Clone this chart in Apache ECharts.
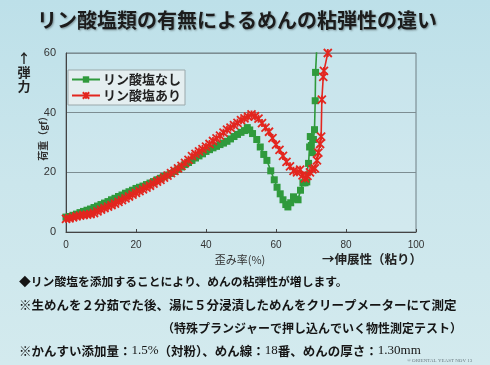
<!DOCTYPE html>
<html><head><meta charset="utf-8">
<script src="https://cdn.jsdelivr.net/npm/echarts@6/dist/echarts.min.js"></script>
<style>html,body{margin:0;padding:0;}#c{width:490px;height:365px;}</style>
</head><body><div id="c"></div>
<script>
const titleText = 'リン酸塩類の有無によるめんの粘弾性の違い';
const seriesNames = ['リン酸塩なし', 'リン酸塩あり'];
const xTicks = [0, 20, 40, 60, 80, 100];
const yTicks = [0, 20, 40, 60];

// リン酸塩なし  (strain %, load gf)
const noneX = [0,1,2,3,4,5,6,7,8,9,10,11,12,13,14,15,16,17,18,19,20,21,22,23,24,25,26,27,28,29,
  30,31,32,33,34,35,36,37,38,39,40,41,42,43,44,45,46,47,48,49,50,51,51.8,52.5,53.3,54.5,55.5,56.5,57.4,58.5,
  59.5,60.3,61.2,62,62.8,63.4,64.2,65,65.7,66.3,67,67.7,68.3,68.8,69.3,69.6,69.8,70.1,70.4,70.7,71.0,71.2,71.3,71.7];
const noneY = [5.0,5.2,5.6,6.0,6.5,6.9,7.3,7.7,8.2,8.7,9.2,9.7,10.2,10.8,11.3,11.9,12.4,13.0,13.5,14.0,14.6,15.0,15.4,15.9,16.4,16.9,17.5,18.0,18.6,19.1,
  19.6,20.3,21.0,21.8,22.6,23.3,24.0,24.8,25.5,26.2,27.0,27.6,28.2,28.7,29.3,29.8,30.4,31.2,32.0,32.7,33.4,34.0,35.0,34.2,33.0,31.0,28.5,26.0,24.0,20.5,
  17.5,15.0,12.8,10.8,9.2,8.4,9.8,11.8,11.0,10.8,14.0,16.5,16.5,16.8,23.0,28.5,32.0,29.0,26.6,31.0,34.3,44.0,53.5,63.0];

// リン酸塩あり
const withX = [0,1,2,3,4,5,6,7,8,9,10,11,12,13,14,15,16,17,18,19,20,21,22,23,24,25,26,27,28,29,
  30,31,32,33,34,35,36,37,38,39,40,41,42,43,44,45,46,47,48,49,50,51,52,53,54,55,56,57,58,59,
  60,61,62,63,64,65,66,66.9,67.6,68.3,69,69.7,70.4,71.1,71.7,72.1,72.6,72.9,73.1,73.5,73.7,74.8];
const withY = [4.4,4.6,4.9,5.2,5.5,5.7,5.8,6.0,6.3,6.9,7.5,8.0,8.5,9.0,9.5,10.1,10.7,11.3,11.9,12.5,13.1,13.7,14.3,14.9,15.5,16.2,16.9,17.5,18.2,18.9,
  19.7,20.5,21.3,22.2,23.2,24.2,25.4,26.2,27.0,27.8,28.6,29.5,30.5,31.4,32.3,33.3,34.3,35.0,35.8,36.6,37.5,38.1,38.7,39.4,38.8,38.0,36.5,35.0,33.6,31.5,
  29.3,27.5,25.5,23.5,22.0,20.5,20.0,20.9,19.0,18.0,18.8,20.0,21.0,21.3,24.0,26.6,29.5,32.0,44.4,52.0,54.0,60.0];

const noteLines = [
  '◆リン酸塩を添加することにより、めんの粘弾性が増します。',
  '※生めんを２分茹でた後、湯に５分浸漬しためんをクリープメーターにて測定',
  '（特殊プランジャーで押し込んでいく物性測定テスト）'
];
const note4Parts = ['※かんすい添加量：', '1.5%', '（対粉）、めん線：', '18', '番、めんの厚さ：', '1.30mm'];

const pairs = (xs, ys) => xs.map((x, i) => [x, ys[i]]);
const JP = "'Noto Sans CJK JP', sans-serif";
const starPath = 'path://M0,0 L10,10 M10,0 L0,10 M5,0 L5,10';
const note4Text = note4Parts.map((p, i) => (i % 2 ? '{n|' : '{a|') + p + '}').join('');

const chart = echarts.init(document.getElementById('c'));
chart.setOption({
  animation: false,
  backgroundColor: {
    type: 'linear', x: 0, y: 0, x2: 0, y2: 1,
    colorStops: [{offset: 0, color: '#bde0e9'}, {offset: 0.5, color: '#cbe6ec'}, {offset: 1, color: '#d3eaee'}]
  },
  textStyle: {fontFamily: JP},
  grid: {left: 66, right: 74, top: 53, bottom: 133, show: true, borderColor: '#6f7f84', borderWidth: 1,
    backgroundColor: 'rgba(255,255,255,0.10)'},
  legend: {
    orient: 'vertical', left: 68, top: 70, padding: [3, 4, 3, 3], itemGap: 3,
    itemWidth: 28, itemHeight: 8,
    backgroundColor: '#e4eef0', borderColor: '#9aa8ab', borderWidth: 1,
    textStyle: {fontSize: 13, fontWeight: 'bold', color: '#222', fontFamily: JP, padding: [0, 0, 0, -2]},
    data: seriesNames
  },
  xAxis: {
    type: 'value', min: xTicks[0], max: xTicks[xTicks.length - 1], interval: 20,
    axisLine: {lineStyle: {color: '#444', width: 1}},
    axisTick: {show: true, inside: true, length: 3, lineStyle: {color: '#444'}},
    splitLine: {show: false},
    axisLabel: {fontSize: 10, color: '#333', margin: 8, fontFamily: 'Liberation Sans, Arial, sans-serif'}
  },
  yAxis: {
    type: 'value', min: yTicks[0], max: yTicks[yTicks.length - 1], interval: 20,
    axisLine: {show: true, lineStyle: {color: '#444', width: 1}},
    axisTick: {show: false},
    splitLine: {show: true, lineStyle: {color: '#7d8d92', width: 1}},
    axisLabel: {fontSize: 11, color: '#333', margin: 10, fontFamily: 'Liberation Sans, Arial, sans-serif'}
  },
  series: [
    {
      name: seriesNames[0], type: 'line', data: pairs(noneX, noneY),
      symbol: 'rect', symbolSize: 7, showAllSymbol: true,
      lineStyle: {color: '#2f9a3c', width: 1.6},
      itemStyle: {color: '#2f9a3c'}, z: 2
    },
    {
      name: seriesNames[1], type: 'line', data: pairs(withX, withY),
      symbol: starPath, symbolSize: 8, showAllSymbol: true,
      lineStyle: {color: '#e3261f', width: 1.6},
      itemStyle: {color: '#e3261f', borderColor: '#e3261f', borderWidth: 1.8}, z: 3
    }
  ],
  graphic: [
    {type: 'text', left: 37, top: 10, z: 10,
      style: {text: titleText, fontSize: 20, fontWeight: 'bold', fill: '#1c1c1c', fontFamily: JP,
        textShadowColor: 'rgba(0,0,0,0.35)', textShadowBlur: 2, textShadowOffsetX: 1, textShadowOffsetY: 1}},
    {type: 'text', x: 24, y: 51,
      style: {text: '↑\n弾\n力', fontSize: 13, lineHeight: 14, fontWeight: 'bold', fill: '#222', fontFamily: JP, align: 'center'}},
    {type: 'text', x: 43, y: 136, rotation: Math.PI / 2,
      style: {text: '荷重（gf）', fontSize: 10, fontWeight: 'bold', fill: '#333', fontFamily: JP, align: 'center', verticalAlign: 'middle'}},
    {type: 'text', x: 240, y: 260,
      style: {text: '歪み率(%)', fontSize: 11, fill: '#333', fontFamily: JP, align: 'center', verticalAlign: 'middle'}},
    {type: 'text', x: 322, y: 259,
      style: {text: '→伸展性（粘り）', fontSize: 12.5, fontWeight: 'bold', fill: '#222', fontFamily: JP, verticalAlign: 'middle'}},
    {type: 'text', x: 19, y: 282,
      style: {text: noteLines[0], fontSize: 11.8, fontWeight: 'bold', fill: '#151515', fontFamily: JP, verticalAlign: 'middle'}},
    {type: 'text', x: 19, y: 305,
      style: {text: noteLines[1], fontSize: 12.5, fontWeight: 'bold', fill: '#151515', fontFamily: JP, verticalAlign: 'middle'}},
    {type: 'text', x: 162, y: 328,
      style: {text: noteLines[2], fontSize: 12, fontWeight: 'bold', fill: '#151515', fontFamily: JP, verticalAlign: 'middle'}},
    {type: 'text', x: 19, y: 351,
      style: {text: note4Text, verticalAlign: 'middle',
        rich: {
          a: {fontSize: 12.5, fontWeight: 'bold', fill: '#151515', color: '#151515', fontFamily: JP},
          n: {fontSize: 13, fontWeight: 'normal', fill: '#151515', color: '#151515', fontFamily: "'Liberation Serif', serif"}
        }}},
    {type: 'text', x: 407, y: 361,
      style: {text: '® ORIENTAL YEAST NOV 13', fontSize: 5, fill: '#6a7a80', fontFamily: 'Liberation Serif, serif', verticalAlign: 'middle'}}
  ]
});
</script></body></html>
